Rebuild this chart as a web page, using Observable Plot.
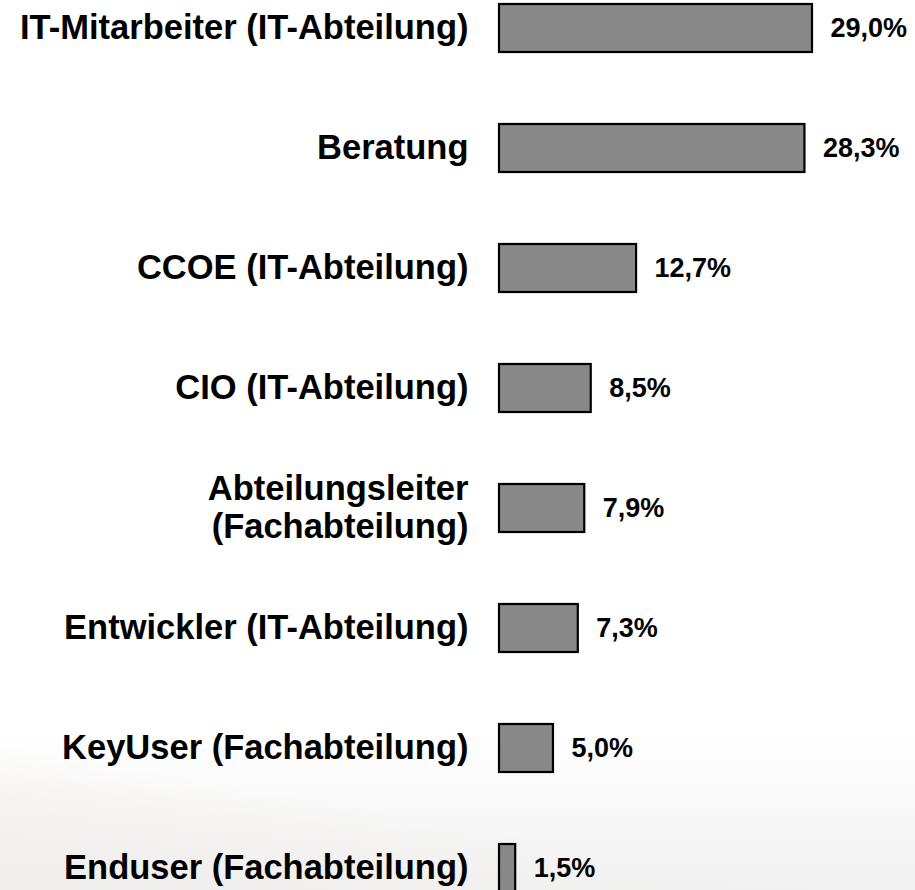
<!DOCTYPE html>
<html>
<head>
<meta charset="utf-8">
<script src="https://cdn.jsdelivr.net/npm/d3@7"></script>
<script src="https://cdn.jsdelivr.net/npm/@observablehq/plot@0.6"></script>
<style>
  html, body { margin: 0; padding: 0; }
  body {
    width: 915px; height: 890px; overflow: hidden;
    background:
      linear-gradient(180deg, rgba(255,255,255,0) 0%, rgba(255,255,255,0) 82%, rgba(238,238,238,0.8) 100%),
      linear-gradient(190deg, rgba(255,255,255,0) 86%, rgba(242,230,214,0.7) 100%),
      #ffffff;
  }
  #chart svg { display: block; background: transparent; }
</style>
</head>
<body>
<div id="chart"></div>
<script>
const categories = [
  "IT-Mitarbeiter (IT-Abteilung)",
  "Beratung",
  "CCOE (IT-Abteilung)",
  "CIO (IT-Abteilung)",
  "Abteilungsleiter\n(Fachabteilung)",
  "Entwickler (IT-Abteilung)",
  "KeyUser (Fachabteilung)",
  "Enduser (Fachabteilung)"
];
const values = [29.0, 28.3, 12.7, 8.5, 7.9, 7.3, 5.0, 1.5];
const valueLabels = ["29,0%", "28,3%", "12,7%", "8,5%", "7,9%", "7,3%", "5,0%", "1,5%"];

const data = categories.map((c, i) => ({cat: c, v: values[i], label: valueLabels[i]}));

const chart = Plot.plot({
  width: 915,
  height: 890,
  marginTop: 0, marginBottom: 0, marginLeft: 0, marginRight: 0,
  style: {fontFamily: "'Liberation Sans', Arial, sans-serif", background: "transparent", overflow: "visible"},
  x: {domain: [0, 29], range: [499, 812], axis: null},
  y: {domain: categories, range: [2, 893], paddingInner: 0.6, paddingOuter: 0, axis: null},
  marks: [
    Plot.barX(data, {x: "v", y: "cat", fill: "#888888", stroke: "#000000", strokeWidth: 2.2}),
    Plot.text(data, {x: 0, y: "cat", text: "cat", dx: -31, dy: -2, textAnchor: "end",
      fontSize: 34.5, fontWeight: "bold", fill: "#000", lineHeight: 1.1}),
    Plot.text(data, {x: "v", y: "cat", text: "label", dx: 18, textAnchor: "start",
      fontSize: 27, fontWeight: "bold", fill: "#000"})
  ]
});
document.getElementById("chart").appendChild(chart);
</script>
</body>
</html>
